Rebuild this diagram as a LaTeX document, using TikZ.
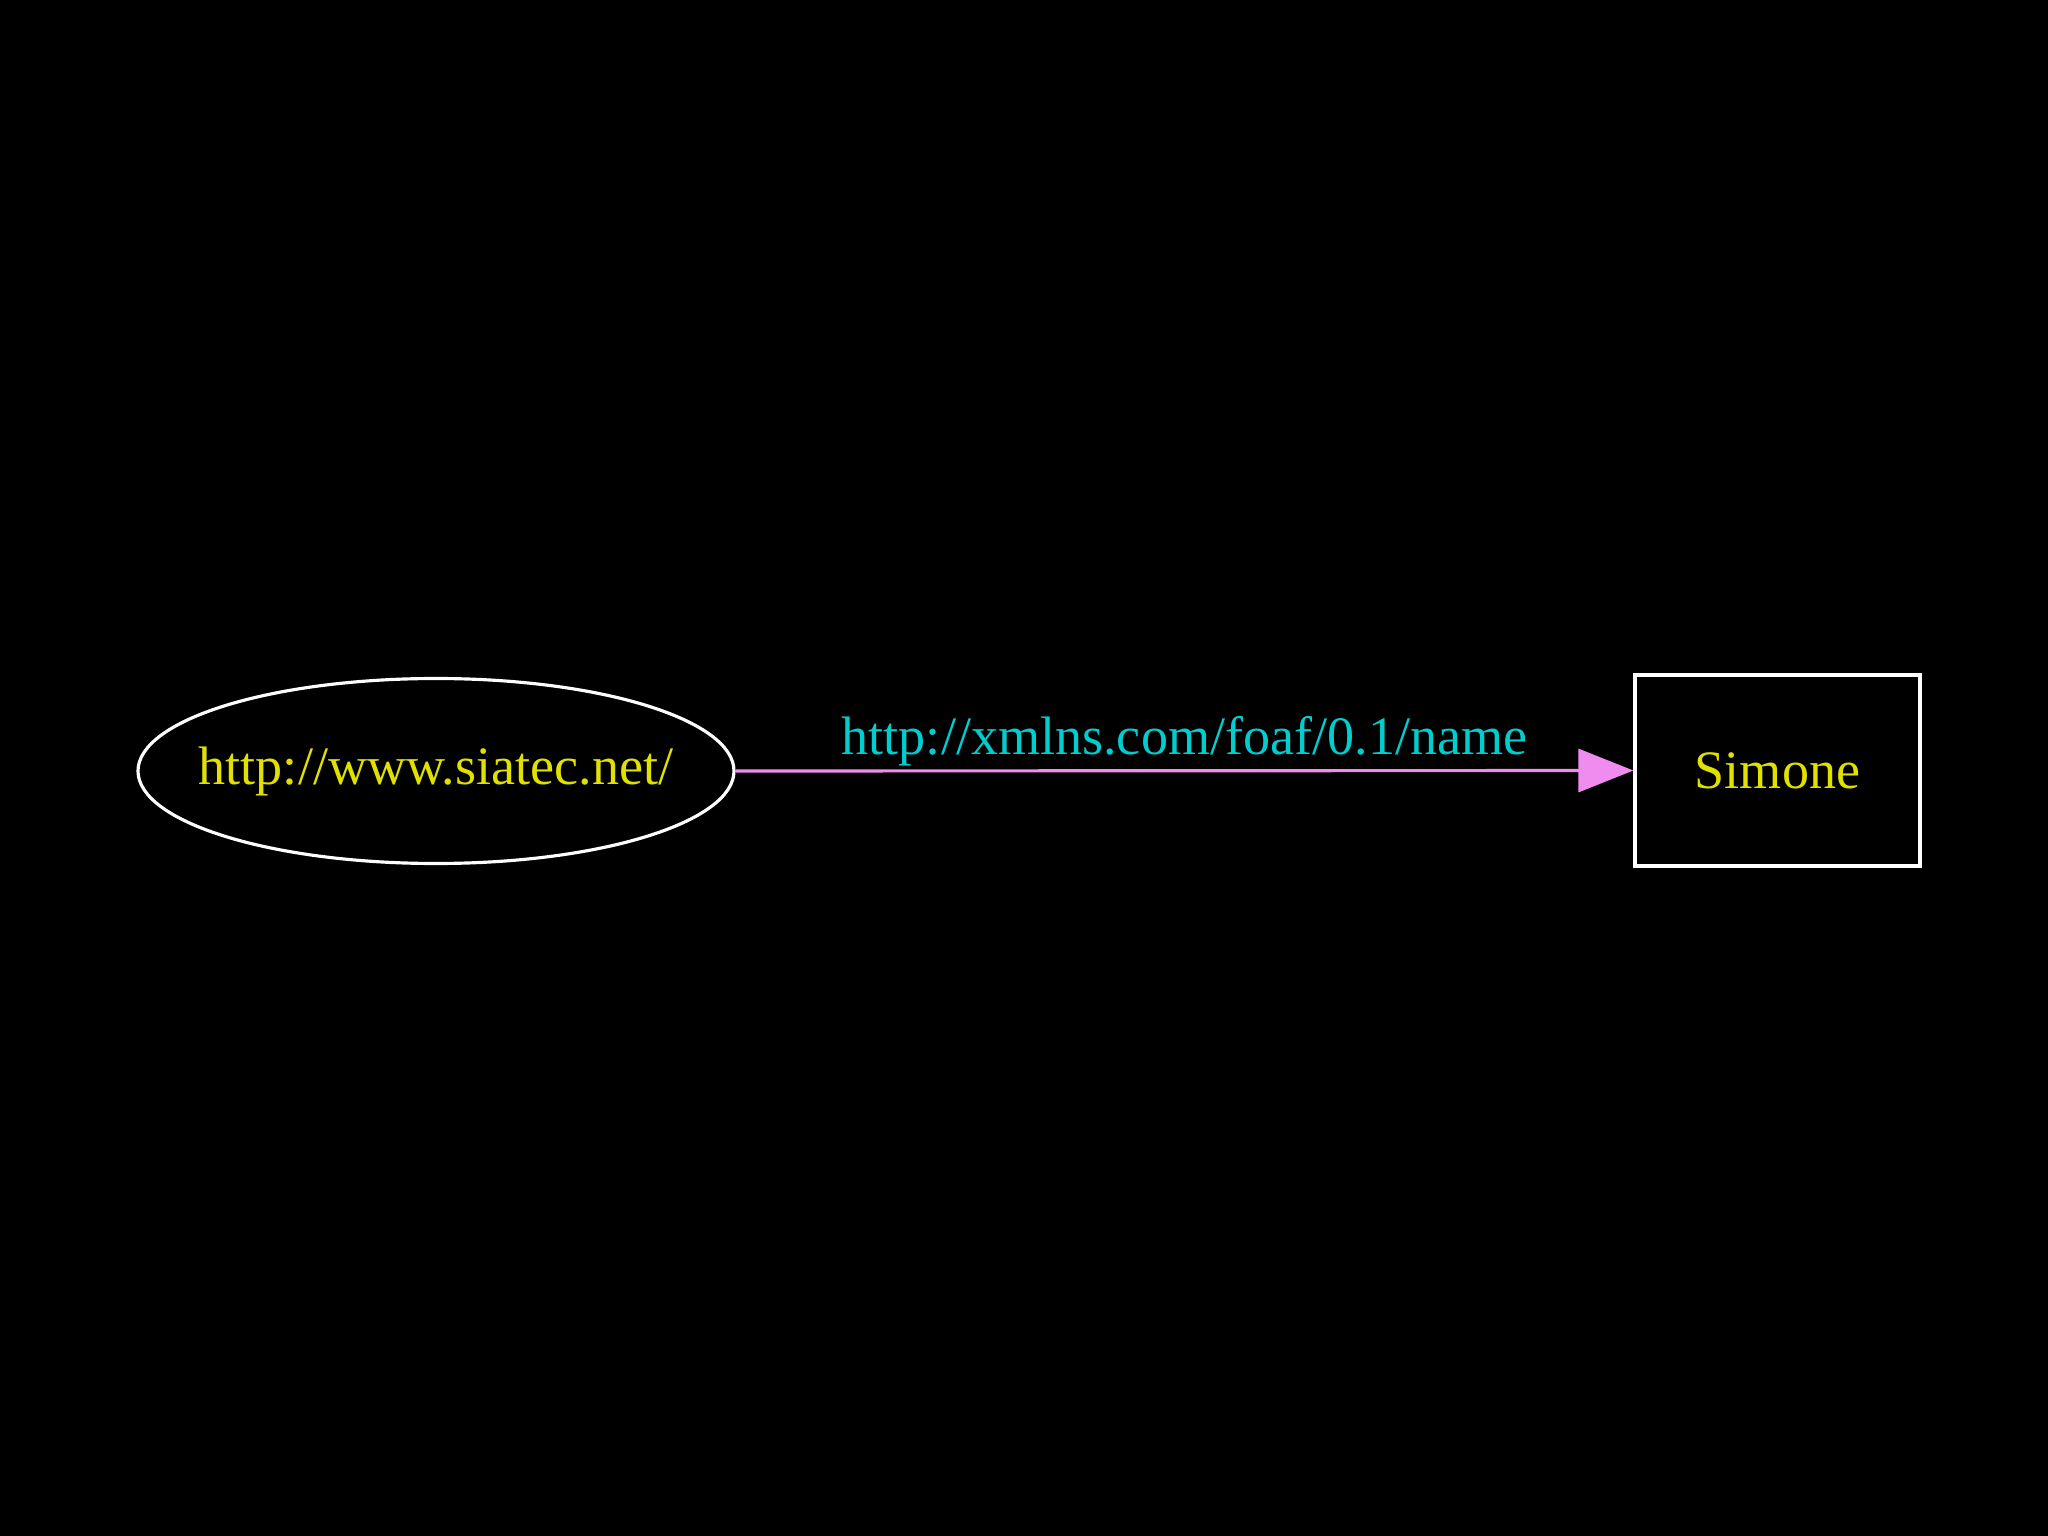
\documentclass[tikz,border=0pt]{standalone}
\usepackage{fontspec}
\setmainfont{Liberation Serif}
\usetikzlibrary{shapes.geometric,arrows.meta,positioning}
\definecolor{nodetext}{RGB}{225,225,0}
\definecolor{labeltext}{RGB}{0,205,205}
\definecolor{edgepink}{RGB}{240,140,240}

\begin{document}
\begin{tikzpicture}[
  resource/.style={ellipse,draw=white,line width=0.9pt,inner sep=0pt,minimum width=5.96cm,minimum height=1.85cm,text=nodetext,font=\fontsize{15.4}{18}\selectfont},
  literal/.style={rectangle,draw=white,line width=0.9pt,minimum width=2.85cm,minimum height=1.91cm,text=nodetext,font=\fontsize{15.4}{18}\selectfont},
  prop/.style={draw=edgepink,line width=0.9pt,-{Triangle[length=5.5mm,width=4.3mm]}}
]
\fill[black] (0,0) rectangle (20.48,-15.36);
\useasboundingbox (0,0) rectangle (20.48,-15.36);

\node[resource] (site) at (4.36,-7.71) {\makebox[0pt]{http://www.siatec.net/}};
\node[literal] (simone) at (17.775,-7.705) {Simone};

\draw[prop] (site.east) -- (simone.west)
  node[midway,above,inner sep=1pt,text=labeltext,font=\fontsize{15.4}{18}\selectfont] (foafname) {http://xmlns.com/foaf/0.1/name};

\end{tikzpicture}
\end{document}
